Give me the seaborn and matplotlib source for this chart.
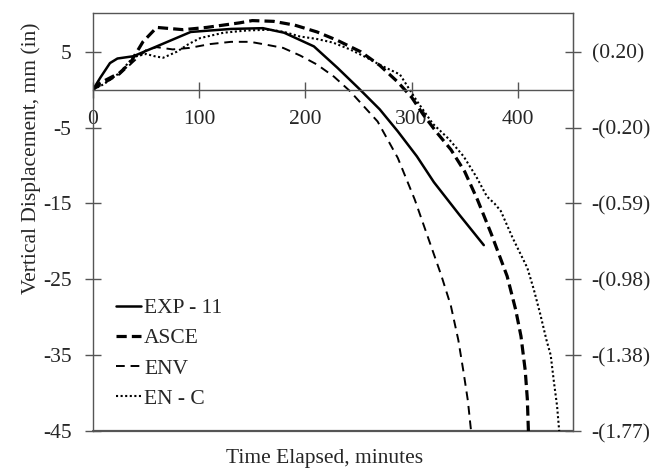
import matplotlib
matplotlib.use("Agg")
import matplotlib.pyplot as plt
import seaborn as sns
import pandas as pd
from matplotlib.ticker import FixedLocator, FuncFormatter

# ---- data ----
exp_t = [0, 7, 16, 23, 38, 60, 92, 130, 160, 180, 208, 230, 250, 270, 287, 305, 321, 345, 368]
exp_d = [0, 1.6, 3.5, 4.1, 4.4, 5.7, 7.6, 8.0, 8.1, 7.5, 5.7, 2.9, 0.2, -2.6, -5.5, -8.8, -12.2, -16.5, -20.5]

asce_t = [0, 7, 25, 35, 47, 60, 85, 107, 138, 150, 170, 190, 211, 230, 252, 270, 287, 300, 311, 324,
          337, 350, 362, 375, 390, 398, 403, 407, 409, 410]
asce_d = [0, 0.9, 2.2, 3.5, 6.3, 8.2, 7.9, 8.2, 8.8, 9.1, 9.0, 8.5, 7.6, 6.5, 5.0, 3.2, 1.0, -1.0, -3.3, -5.7,
          -7.9, -10.8, -14.5, -19.0, -24.6, -29.0, -32.5, -37.0, -40.8, -45.0]

env_t = [0, 10, 25, 38, 50, 60, 75, 91, 110, 130, 148, 164, 179, 195, 211, 227, 242, 255, 268, 287,
         303, 318, 328, 337, 344, 349, 353, 356]
env_d = [0, 0.8, 2.0, 3.7, 5.2, 5.6, 5.3, 5.5, 6.0, 6.3, 6.3, 5.9, 5.5, 4.5, 3.3, 1.7, -0.2, -2.2, -4.2, -9.0,
         -14.5, -20.5, -24.5, -28.5, -33.0, -37.3, -41.0, -45.0]

enc_t = [0, 10, 25, 38, 50, 58, 66, 79, 90, 101, 123, 145, 167, 180, 195, 210, 226, 242, 258, 271, 289,
         305, 320, 335, 349, 361, 371, 378, 384, 395, 409, 415, 421, 427, 431, 434, 437, 439]
enc_d = [0, 0.7, 2.2, 4.3, 4.7, 4.4, 4.2, 5.0, 6.0, 6.8, 7.5, 7.8, 7.9, 7.6, 7.0, 6.7, 6.2, 5.3, 4.2, 3.2, 2.0,
         -1.5, -4.5, -6.5, -8.8, -11.5, -14.1, -15.0, -16.0, -19.5, -23.5, -26.3, -29.5, -33.0, -35.0, -38.5,
         -41.7, -45.0]

series_names = ["EXP - 11", "ASCE", "ENV", "EN - C"]
yticks_mm = [5, -5, -15, -25, -35, -45]
xticks_min = [0, 100, 200, 300, 400]

# ---- style ----
sns.set_style("ticks")
plt.rcParams["font.family"] = ["Liberation Serif", "DejaVu Serif"]

FS = 15.5
frame_col = "#555555"

fig = plt.figure(figsize=(6.56, 4.69), dpi=100)
ax = fig.add_axes([93 / 656, 1 - 431 / 469, 480 / 656, 418 / 469])

styles = [
    dict(color="black", lw=1.8, ls="-"),
    dict(color="black", lw=2.3, ls=(0, (3.2, 1.6))),
    dict(color="black", lw=1.4, ls=(0, (4.5, 3.0))),
    dict(color="black", lw=1.5, ls=(0, (1.0, 1.2))),
]
data_sets = [(exp_t, exp_d), (asce_t, asce_d), (env_t, env_d), (enc_t, enc_d)]

for name, (t, d), st in zip(series_names, data_sets, styles):
    df = pd.DataFrame({"t": t, "d": d})
    sns.lineplot(data=df, x="t", y="d", ax=ax, sort=False, label=name,
                 color=st["color"], linewidth=st["lw"], linestyle=st["ls"])

ax.set_xlim(0, 452)
ax.set_ylim(-45, 10.1)

# spines
for s in ["top", "left", "right"]:
    ax.spines[s].set_color(frame_col)
    ax.spines[s].set_linewidth(1.0)
ax.spines["bottom"].set_position(("data", 0))
ax.spines["bottom"].set_color(frame_col)
ax.spines["bottom"].set_linewidth(1.0)
ax.axhline(-45, color=frame_col, lw=1.6, clip_on=False, zorder=0.5)

ax.xaxis.set_major_locator(FixedLocator(xticks_min))
ax.yaxis.set_major_locator(FixedLocator(yticks_mm))
ax.tick_params(axis="x", direction="inout", length=11, width=1.0, color=frame_col,
               labelsize=FS, pad=9)
ax.tick_params(axis="y", direction="inout", length=11, width=1.0, color=frame_col,
               labelsize=FS, pad=10)
ax.yaxis.set_major_formatter(FuncFormatter(lambda v, p: f"{v:g}"))

ax.set_xlabel("Time Elapsed, minutes", fontsize=FS)
ax.set_ylabel("Vertical Displacement, mm (in)", fontsize=FS)
ax.xaxis.set_label_coords(0.483, -0.043)
ax.yaxis.set_label_coords(-0.108, 0.652)

# secondary axis (inches)
ax2 = ax.twinx()
ax2.set_ylim(ax.get_ylim())
ax2.yaxis.set_major_locator(FixedLocator(yticks_mm))


def inch_fmt(v, p):
    val = abs(v) / 25.4
    s = f"({val:.2f})"
    return s if v > 0 else "-" + s


ax2.yaxis.set_major_formatter(FuncFormatter(inch_fmt))
ax2.tick_params(axis="y", direction="inout", length=11, width=1.0, color=frame_col,
                labelsize=FS, pad=8)
for s in ["top", "left", "right", "bottom"]:
    ax2.spines[s].set_visible(s == "right")
ax2.spines["right"].set_color(frame_col)

leg = ax.legend(loc="upper left", bbox_to_anchor=(0.048, 0.318), frameon=False,
                fontsize=FS, handlelength=1.15, handletextpad=0.15,
                labelspacing=0.47, borderpad=0, borderaxespad=0)

fig.savefig("out.png", dpi=100)
